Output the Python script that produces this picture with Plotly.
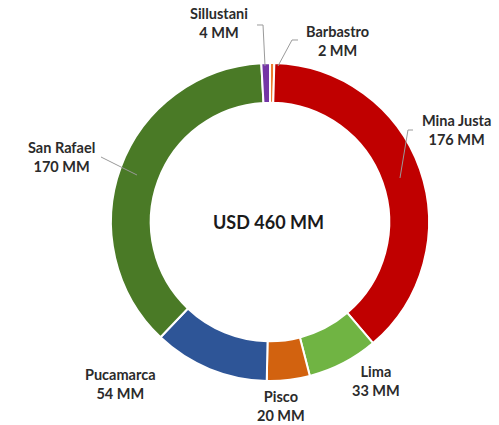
import plotly.graph_objects as go

labels = ["Barbastro", "Mina Justa", "Lima", "Pisco", "Pucamarca", "San Rafael", "Sillustani"]
values = [2, 176, 33, 20, 54, 170, 4]
value_text = ["2 MM", "176 MM", "33 MM", "20 MM", "54 MM", "170 MM", "4 MM"]
colors = ["#ED7D31", "#C00000", "#70B443", "#D2620F", "#2E5597", "#4A7A26", "#7436A6"]
center_text = "USD 460 MM"

W, H = 499, 425
cx, cy, R = 270, 222, 159

fig = go.Figure(go.Pie(
    labels=labels, values=values, sort=False, direction="clockwise", rotation=0,
    hole=0.75, textinfo="none", hoverinfo="label+value",
    marker=dict(colors=colors, line=dict(color="white", width=2)),
    domain=dict(x=[(cx - R) / W, (cx + R) / W], y=[(H - cy - R) / H, (H - cy + R) / H]),
    showlegend=False,
))

def px(x):
    return x / W

def py(y):
    return 1 - y / H

# label positions (pixel centres) and leader line paths
label_pos = {
    "Sillustani": (219, 23),
    "Barbastro": (337, 41),
    "Mina Justa": (456, 130),
    "San Rafael": (61, 157),
    "Pucamarca": (120, 384),
    "Pisco": (281, 406),
    "Lima": (376, 381),
}
leaders = {
    "Sillustani": [(265, 66), (263, 25), (257, 25)],
    "Barbastro": [(278, 66), (292, 40), (298, 40)],
    "Mina Justa": [(400, 178), (408, 130), (413, 130)],
    "San Rafael": [(137, 175), (101, 157)],
}

annotations = []
for lab, vt in zip(labels, value_text):
    x, y = label_pos[lab]
    annotations.append(dict(
        x=px(x), y=py(y), xref="paper", yref="paper", showarrow=False,
        text=f"<b>{lab}<br>{vt}</b>", align="center",
        font=dict(family="Lato, Open Sans, sans-serif", size=14.5, color="#2b2b2b"),
        xanchor="center", yanchor="middle",
    ))
annotations.append(dict(
    x=px(268), y=py(222), xref="paper", yref="paper", showarrow=False,
    text=f"<b>{center_text}</b>",
    font=dict(family="Lato, Open Sans, sans-serif", size=18, color="#1a1a1a"),
    xanchor="center", yanchor="middle",
))

shapes = []
for lab, pts in leaders.items():
    path = "M " + " L ".join(f"{px(a):.4f},{py(b):.4f}" for a, b in pts)
    shapes.append(dict(type="path", path=path, xref="paper", yref="paper",
                       line=dict(color="#9a9a9a", width=1)))

fig.update_layout(
    width=W, height=H, margin=dict(l=0, r=0, t=0, b=0),
    paper_bgcolor="white", plot_bgcolor="white",
    annotations=annotations, shapes=shapes,
)

fig.write_html("out.html", config={"displayModeBar": False},
               post_script="document.body.style.margin='0';")
